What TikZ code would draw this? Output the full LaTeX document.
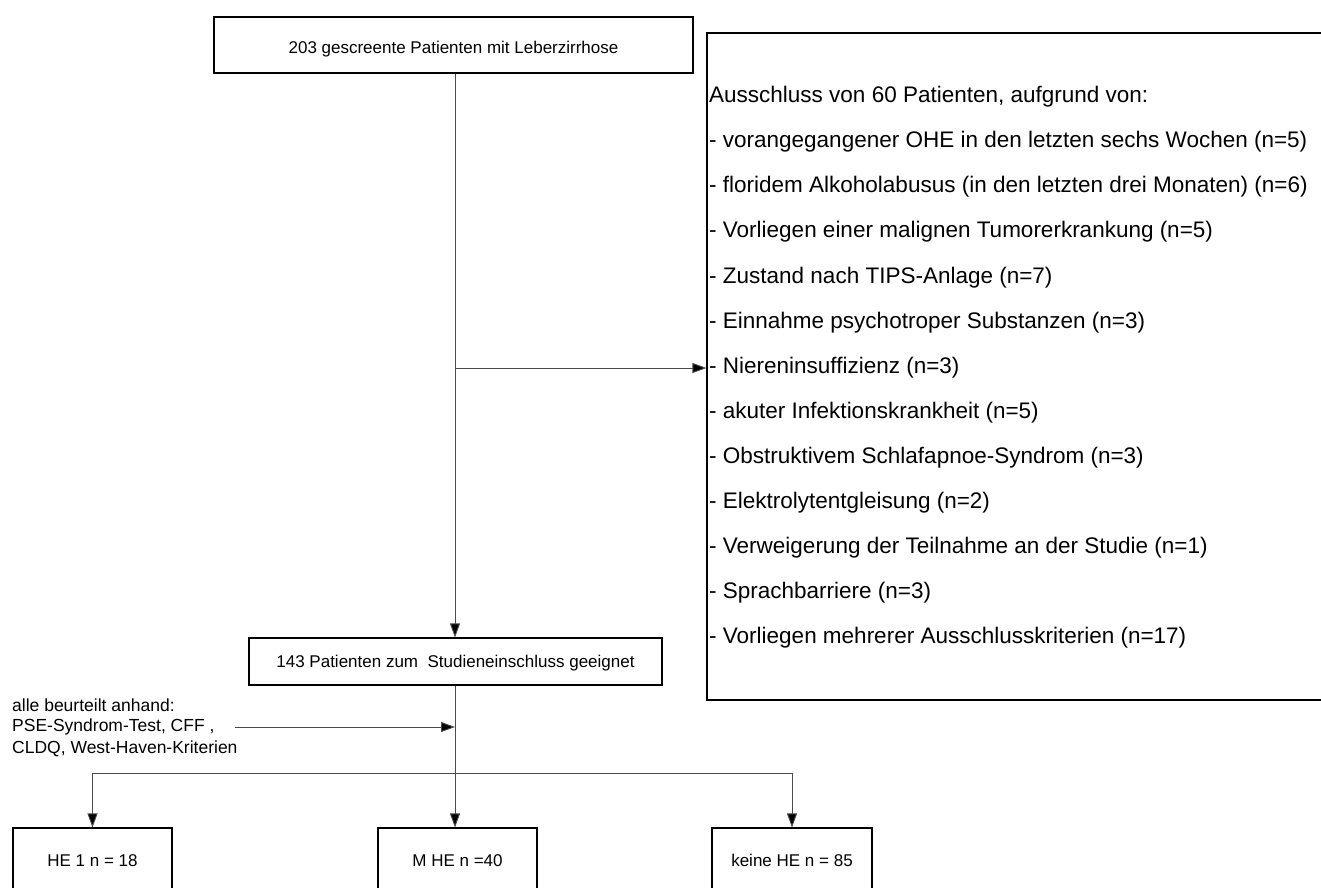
\documentclass[tikz,border=0pt]{standalone}
\usepackage{fontspec}
\setmainfont{Liberation Sans}
\usetikzlibrary{arrows.meta}
\begin{document}
\begin{tikzpicture}[x=1pt,y=-1pt,
  box/.style={draw=black, line width=1.1pt, rectangle, inner sep=0pt, font=\fontsize{17}{20}\selectfont},
  lab/.style={inner sep=0pt, font=\fontsize{17}{20}\selectfont, text height=12pt, text depth=3.5pt},
  conn/.style={draw=black!70, line width=0.9pt},
  arr/.style={conn, -{Triangle[length=14pt,width=10pt,fill=black]}},
  ex/.style={anchor=west, inner sep=0pt, font=\fontsize{22.5}{26}\selectfont},
  side/.style={anchor=west, inner sep=0pt, font=\fontsize{17.5}{20}\selectfont},
  ]
\useasboundingbox (0,0) rectangle (1321,887);
\clip (0,0) rectangle (1321,887);
% boxes
\node[box, minimum width=479pt, minimum height=56pt] (top) at (453.5,45) {};
\node[lab] (topt) at (453.5,49) {203 gescreente Patienten mit Leberzirrhose};
\node[box, minimum width=630pt, minimum height=667pt] (excl) at (1022,366.5) {};
\node[box, minimum width=413pt, minimum height=47pt] (mid) at (455.5,661.5) {};
\node[lab] (midt) at (455.5,663) {143 Patienten zum\ \ Studieneinschluss geeignet};
\node[box, minimum width=159pt, minimum height=120pt] (he1) at (92.5,888) {};
\node[box, minimum width=159pt, minimum height=120pt] (mhe) at (457.5,888) {};
\node[box, minimum width=160pt, minimum height=120pt] (khe) at (792,888) {};
\node[lab] (he1t) at (92.5,862) {HE 1 n = 18};
\node[lab] (mhet) at (457.5,862) {M HE n =40};
\node[lab] (khet) at (792,862) {keine HE n = 85};
% exclusion text
\node[ex] (e0) at (709,97) {Ausschluss von 60 Patienten, aufgrund von:};
\node[ex] (e1) at (709,142) {- vorangegangener OHE in den letzten sechs Wochen (n=5)};
\node[ex] (e2) at (709,187) {- floridem Alkoholabusus (in den letzten drei Monaten) (n=6)};
\node[ex] (e3) at (709,232) {- Vorliegen einer malignen Tumorerkrankung (n=5)};
\node[ex] (e4) at (709,277.5) {- Zustand nach TIPS-Anlage (n=7)};
\node[ex] (e5) at (709,322.5) {- Einnahme psychotroper Substanzen (n=3)};
\node[ex] (e6) at (709,368) {- Niereninsuffizienz (n=3)};
\node[ex] (e7) at (709,413) {- akuter Infektionskrankheit (n=5)};
\node[ex] (e8) at (709,458) {- Obstruktivem Schlafapnoe-Syndrom (n=3)};
\node[ex] (e9) at (709,503) {- Elektrolytentgleisung (n=2)};
\node[ex] (e10) at (709,548) {- Verweigerung der Teilnahme an der Studie (n=1)};
\node[ex] (e11) at (709,593) {- Sprachbarriere (n=3)};
\node[ex] (e12) at (709,638) {- Vorliegen mehrerer Ausschlusskriterien (n=17)};
% side text
\node[side] (s0) at (12,705) {alle beurteilt anhand:};
\node[side] (s1) at (12,727) {PSE-Syndrom-Test, CFF ,};
\node[side] (s2) at (12,749) {CLDQ, West-Haven-Kriterien};
% connectors
\coordinate (split) at (455,368);
\coordinate (join) at (455,727);
\coordinate (fork) at (455,773);
\coordinate (sstart) at (235,727);
\draw[conn] (top.south -| split) -- (split);
\draw[arr] (split) -- (split -| excl.west);
\draw[arr] (split) -- (mid.north -| split);
\draw[arr] (sstart) -- (join);
\draw[arr] (mid.south -| fork) -- (mhe.north -| fork);
\draw[conn] (he1.north |- fork) -- (khe.north |- fork);
\draw[arr] (he1.north |- fork) -- (he1.north);
\draw[arr] (khe.north |- fork) -- (khe.north);
\end{tikzpicture}
\end{document}
